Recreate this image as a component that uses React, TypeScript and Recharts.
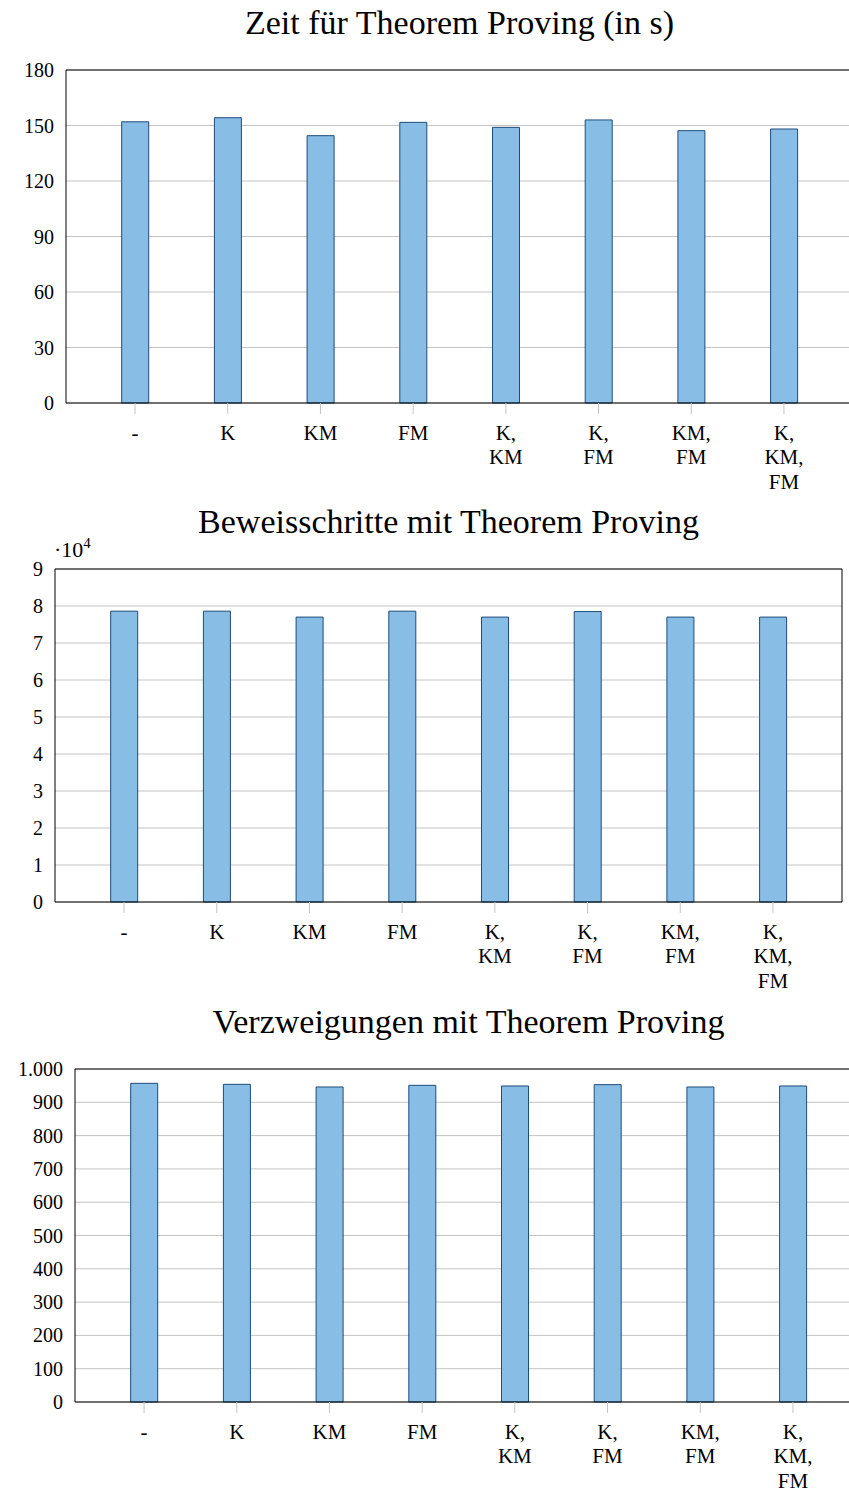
import { BarChart, Bar, XAxis, YAxis, CartesianGrid } from 'recharts';

const categories = ['-', 'K', 'KM', 'FM', 'K,\nKM', 'K,\nFM', 'KM,\nFM', 'K,\nKM,\nFM'];

const zeitValues = [152.0, 154.2, 144.5, 151.7, 149.0, 153.0, 147.2, 148.1];
const schritteValues = [78600, 78600, 77000, 78600, 77000, 78500, 77000, 77000];
const verzweigungValues = [957, 954, 946, 951, 949, 953, 946, 949];

const zeitTicks = [0, 30, 60, 90, 120, 150, 180];
const schritteTicks = [0, 10000, 20000, 30000, 40000, 50000, 60000, 70000, 80000, 90000];
const verzweigungTicks = [0, 100, 200, 300, 400, 500, 600, 700, 800, 900, 1000];

const FONT = 'Liberation Serif, Times New Roman, serif';
const BAR_FILL = '#88bee6';
const BAR_STROKE = '#1d4c7a';
const GRID = '#c4c4c4';
const PLOT_W = 787;

function CategoryTick(props: any) {
  const { x, y, payload } = props;
  const lines = String(payload.value).split('\n');
  return (
    <text x={x} y={y} textAnchor="middle" fontFamily={FONT} fontSize={21} fill="#000">
      {lines.map((l, i) => (
        <tspan key={i} x={x} dy={i === 0 ? 25.5 : 24.6}>{l}</tspan>
      ))}
    </text>
  );
}

function ValueTick(props: any) {
  const { x, y, payload, fmt } = props;
  return (
    <text x={x} y={y} dy={7} textAnchor="end" fontFamily={FONT} fontSize={20} fill="#000">
      {fmt(payload.value)}
    </text>
  );
}

function Panel({
  top, plotLeft, title, values, ticks, domainMax, fmt, exponent,
}: {
  top: number; plotLeft: number; title: string; values: number[]; ticks: number[];
  domainMax: number; fmt: (v: number) => string; exponent?: string;
}) {
  const data = categories.map((c, i) => ({ name: c, value: values[i] }));
  return (
    <div style={{ position: 'absolute', left: 0, top, width: 849, height: 500, fontFamily: FONT }}>
      <div style={{
        position: 'absolute', left: plotLeft, top: 4, width: PLOT_W, textAlign: 'center',
        fontFamily: FONT, fontSize: 34, lineHeight: '36px', whiteSpace: 'nowrap',
      }}>{title}</div>
      {exponent && (
        <div style={{ position: 'absolute', left: 54, top: 38, fontFamily: FONT, fontSize: 22, lineHeight: '24px' }}>
          ·10<span style={{ fontSize: 15, position: 'relative', top: -9 }}>{exponent}</span>
        </div>
      )}
      <BarChart
        width={plotLeft + PLOT_W + 2}
        height={500}
        data={data}
        margin={{ top: 68, right: 1, bottom: 0, left: 0 }}
        barSize={27}
        style={{ fontFamily: FONT }}
      >
        <CartesianGrid vertical={false} stroke={GRID} strokeWidth={1} />
        <XAxis
          xAxisId="top" orientation="top" dataKey="name" height={1}
          padding={{ left: 22.7, right: 22.7 }}
          tick={false} tickSize={11} tickLine={{ stroke: GRID }} axisLine={{ stroke: '#000' }}
        />
        <XAxis
          dataKey="name" height={98} interval={0}
          padding={{ left: 22.7, right: 22.7 }}
          tickSize={11} tickMargin={0} tickLine={{ stroke: GRID }} axisLine={{ stroke: '#000' }}
          tick={<CategoryTick />}
        />
        <YAxis
          width={plotLeft} domain={[0, domainMax]} ticks={ticks} interval={0}
          tickLine={false} tickSize={0} tickMargin={12} axisLine={{ stroke: '#000' }}
          tick={<ValueTick fmt={fmt} />}
        />
        <YAxis
          yAxisId="right" orientation="right" width={1} domain={[0, domainMax]}
          tick={false} tickLine={false} axisLine={{ stroke: '#000' }}
        />
        <Bar dataKey="value" fill={BAR_FILL} stroke={BAR_STROKE} strokeWidth={1} isAnimationActive={false} />
      </BarChart>
    </div>
  );
}

export default function App() {
  return (
    <div style={{ position: 'absolute', left: 0, top: 0, width: 849, height: 1492, overflow: 'hidden', background: '#fff' }}>
      <Panel
        top={1} plotLeft={66} title="Zeit für Theorem Proving (in s)"
        values={zeitValues} ticks={zeitTicks} domainMax={180} fmt={(v) => String(v)}
      />
      <Panel
        top={500} plotLeft={55} title="Beweisschritte mit Theorem Proving"
        values={schritteValues} ticks={schritteTicks} domainMax={90000}
        fmt={(v) => String(v / 10000)} exponent="4"
      />
      <Panel
        top={1000} plotLeft={75} title="Verzweigungen mit Theorem Proving"
        values={verzweigungValues} ticks={verzweigungTicks} domainMax={1000}
        fmt={(v) => (v >= 1000 ? v.toLocaleString('de-DE') : String(v))}
      />
    </div>
  );
}
